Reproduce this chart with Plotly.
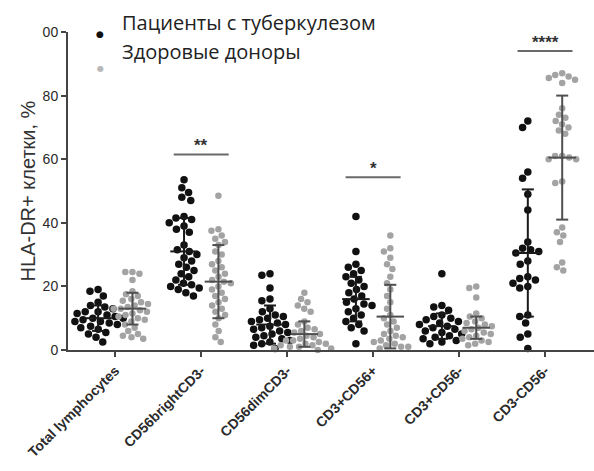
import numpy as np
import plotly.graph_objects as go

categories = ["Total lymphocytes", "CD56brightCD3-", "CD56dimCD3-", "CD3+CD56+", "CD3+CD56-", "CD3-CD56-"]

patients = [
    [19, 18.5, 17, 15, 14, 13.5, 13, 12, 12, 11.5, 11, 10.5, 10, 10, 9.5, 9, 9, 8.5, 8, 7.5, 7, 6.5, 5.5, 5, 4, 2.5],
    [53.5, 51, 49.5, 48, 47, 42, 41.5, 41, 40, 39, 38, 37, 33, 31.5, 31, 30, 29, 28, 27, 26, 25, 24, 23, 22, 21, 20.5, 20, 19.5, 19, 18, 17],
    [24, 23.5, 19.5, 16, 15.5, 13, 12, 11, 10.5, 10, 9.5, 9, 8.5, 8, 7.5, 7, 6.5, 6, 5.5, 5, 4.5, 4, 3.5, 3, 2.5, 2, 1.5, 0.5],
    [42, 31, 27, 26, 25, 24, 23, 22, 21, 20, 19, 18, 17, 16, 15, 14.5, 14, 13, 12, 11, 10, 9, 8, 7, 6, 2],
    [24, 14, 13.5, 12.5, 11, 10.5, 10, 9.5, 9, 8.5, 8, 7.5, 7, 6.5, 6, 5.5, 5, 4.5, 4, 3.5, 3, 2.5, 2],
    [72, 70, 56, 54, 49, 44, 34, 32, 31.5, 31, 30.5, 28, 27, 23, 22.5, 22, 21, 20, 19.5, 11, 10.5, 8.5, 5, 4, 0.5],
]
donors = [
    [24.5, 24.5, 24, 22, 18.5, 17.5, 17, 16, 15.5, 15, 14.5, 14, 13.5, 13, 13, 12.5, 12, 11.5, 11, 10.5, 10, 9.5, 9, 8, 7, 6, 5, 4.5, 4, 3.5],
    [48.5, 38, 37.5, 36, 35, 34, 33, 31, 30, 28, 27, 26, 25, 24, 23, 22, 21.5, 21, 20, 19, 18, 17, 16, 15, 14, 13, 12, 11, 10, 8, 6, 4, 2.5],
    [18, 16, 15, 14, 13, 12, 9, 8, 7, 6.5, 6, 5.5, 5, 4.5, 4, 3.5, 3, 3, 2.5, 2, 2, 1.5, 1.5, 1, 1, 0.5, 0.5, 0],
    [36, 32, 31, 29, 27, 25.5, 23, 21, 19, 17, 15, 13, 11, 10, 9, 8, 7, 6, 5, 4.5, 4, 3.5, 3, 2.5, 2, 1.5, 1, 1, 0.5],
    [20, 19.5, 16.5, 11.5, 10.5, 10, 9, 8.5, 8, 7.5, 7, 6.5, 6, 5.5, 5, 4.5, 4, 3.5, 3, 2.5, 2, 1.5],
    [87, 86.5, 86, 85.5, 85, 84, 76, 74, 73, 72, 71, 70, 69, 68, 61, 61, 60.5, 60, 60, 53, 52.5, 38.5, 37, 36, 34, 27.5, 26, 25],
]
patient_mean = [10, 31, 8, 16, 7.5, 30.5]
patient_sd = [4, 10.5, 6, 7, 4, 20]
donor_mean = [13, 21.5, 5, 10.5, 7, 60.5]
donor_sd = [5, 11.5, 4, 10, 3.5, 19.5]

sig_labels = ["**", "*", "****"]
sig_cats = [1, 3, 5]
sig_heights = [61.5, 54.3, 94]

yticks = [0, 20, 40, 60, 80, 100]
ytick_text = ["0", "20", "40", "60", "80", "00"]

legend_labels = ["Пациенты с туберкулезом", "Здоровые доноры"]

# geometry
L, T, B = 68, 32, 121
W, H = 594, 471
xr = [-0.55, 5.57]
ppu_x = (W - L) / (xr[1] - xr[0])
ppu_y = (H - T - B) / 100.0
OFF = 0.2


def px_x(p):
    return (p - L) / (W - L)


def px_y(p):
    return 1 - (p - T) / (H - T - B)


def swarm(vals, d):
    order = np.argsort(vals)[::-1]
    placed = []
    xs = np.zeros(len(vals))
    for i in order:
        y = vals[i] * ppu_y
        cands = [0.0]
        for (px, py) in placed:
            dy = abs(py - y)
            if dy < d:
                dx = np.sqrt(d * d - dy * dy)
                cands += [px + dx, px - dx]
        cands = sorted(cands, key=lambda c: (abs(c), c))
        for c in cands:
            ok = True
            for (px, py) in placed:
                if (px - c) ** 2 + (py - y) ** 2 < d * d - 1e-6:
                    ok = False
                    break
            if ok:
                xs[i] = c
                placed.append((c, y))
                break
    return xs / ppu_x


fig = go.Figure()

groups = [
    (patients, patient_mean, patient_sd, -OFF, "#111111", 7.5, "#1a1a1a"),
    (donors, donor_mean, donor_sd, OFF, "#a3a3a3", 6.5, "#4f4f4f"),
]

for data, means, sds, off, col, msize, lcol in groups:
    for ci, vals in enumerate(data):
        v = np.array(vals, dtype=float)
        dx = swarm(v, msize * 1.1)
        fig.add_trace(go.Scatter(
            x=ci + off + dx, y=v, mode="markers",
            marker=dict(color=col, size=msize, line=dict(width=0)),
            cliponaxis=False, showlegend=False, hoverinfo="y"))
    # error bars
    for ci in range(len(categories)):
        m, s = means[ci], sds[ci]
        c = ci + off
        lo, hi = max(m - s, 0), m + s
        xs = [c, c, None, c - 0.07, c + 0.07, None, c - 0.07, c + 0.07, None, c - 0.16, c + 0.16]
        ys = [lo, hi, None, hi, hi, None, lo, lo, None, m, m]
        fig.add_trace(go.Scatter(x=xs, y=ys, mode="lines",
                                 line=dict(color=lcol, width=2),
                                 cliponaxis=False, showlegend=False, hoverinfo="skip"))

# significance
for lab, ci, h in zip(sig_labels, sig_cats, sig_heights):
    fig.add_shape(type="line", x0=ci - 0.32, x1=ci + 0.32, y0=h, y1=h,
                  line=dict(color="#6a6a6a", width=2), layer="above")
    fig.add_annotation(x=ci, y=h, text=lab, showarrow=False, yanchor="bottom", yshift=-3,
                       font=dict(size=17, color="#333333", family="Liberation Sans", weight="bold"))

# legend (overlay)
fig.add_annotation(xref="paper", yref="paper", x=px_x(100), y=px_y(34), xanchor="center", yanchor="middle",
                   text="●", showarrow=False, font=dict(size=9, color="#111111", family="DejaVu Sans"))
fig.add_annotation(xref="paper", yref="paper", x=px_x(100), y=px_y(68), xanchor="center", yanchor="middle",
                   text="●", showarrow=False, font=dict(size=8, color="#b8b8b8", family="DejaVu Sans"))
fig.add_annotation(xref="paper", yref="paper", x=px_x(120), y=px_y(22), xanchor="left", yanchor="middle",
                   text=legend_labels[0], showarrow=False,
                   font=dict(size=20, color="#222222", family="Open Sans"))
fig.add_annotation(xref="paper", yref="paper", x=px_x(120), y=px_y(51), xanchor="left", yanchor="middle",
                   text=legend_labels[1], showarrow=False,
                   font=dict(size=20, color="#222222", family="Open Sans"))

fig.update_layout(
    width=W, height=H,
    margin=dict(l=L, r=0, t=T, b=B),
    paper_bgcolor="white", plot_bgcolor="white",
    xaxis=dict(range=xr, tickmode="array", tickvals=list(range(len(categories))),
               ticktext=categories, tickangle=-45, showgrid=False, zeroline=False,
               showline=True, linecolor="#444444", linewidth=2,
               ticks="outside", ticklen=5, tickwidth=2, tickcolor="#444444",
               tickfont=dict(size=14, color="#2a2a2a", family="Liberation Sans", weight="bold")),
    yaxis=dict(range=[0, 100], tickmode="array", tickvals=yticks, ticktext=ytick_text,
               showgrid=False, zeroline=False, showline=True, linecolor="#444444", linewidth=2,
               ticks="outside", ticklen=5, tickwidth=2, tickcolor="#444444",
               tickfont=dict(size=14, color="#2a2a2a", family="Liberation Sans"),
               title=dict(text="HLA-DR+ клетки, %", standoff=2,
                          font=dict(size=20, color="#333333", family="Liberation Sans"))),
    showlegend=False,
)

fig.write_html("out.html")
